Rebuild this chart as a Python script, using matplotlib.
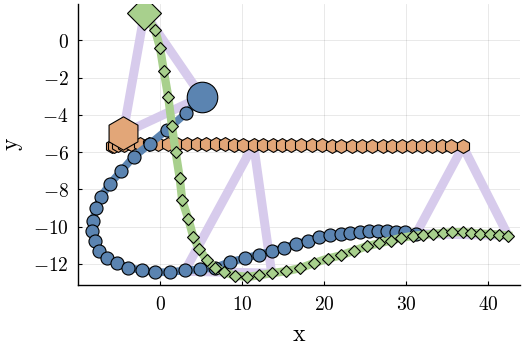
import numpy as np
import matplotlib
matplotlib.use("Agg")
import matplotlib.pyplot as plt
from matplotlib.ticker import FuncFormatter

plt.rcParams.update({'mathtext.fontset': 'cm'})

# ==============================================================
# data
# ==============================================================

blue_x = [5.1, 3.2, 0.85, -1.2, -3.2, -4.7, -6.1, -7.2, -7.8, -8.2,
          -8.25, -7.9, -7.4, -6.5, -5.3, -3.9, -2.2, -0.6, 1.2, 3.0,
          4.9, 6.7, 8.5, 10.4, 12.0, 13.6, 15.1, 16.6, 18.0, 19.4,
          20.7, 22.0, 23.2, 24.3, 25.5, 26.6, 27.7, 28.8, 29.9, 31.2]
blue_y = [-3.03, -3.9, -4.8, -5.55, -6.25, -7.0, -7.7, -8.4, -9.0, -9.7,
          -10.25, -10.8, -11.3, -11.7, -11.95, -12.2, -12.35, -12.45, -12.45, -12.35,
          -12.3, -12.2, -11.9, -11.7, -11.5, -11.33, -11.13, -10.93, -10.75, -10.57,
          -10.45, -10.4, -10.34, -10.3, -10.25, -10.25, -10.25, -10.27, -10.3, -10.38]

orange_x = [-4.5, -5.8, -5.6, -5.1, -4.4, -3.5, -2.45, -1.35, -0.2, 0.95,
            2.1, 3.25, 4.45, 5.6, 6.8, 7.9, 9.05, 10.15, 11.4, 12.5,
            13.7, 14.9, 16.0, 17.2, 18.5, 19.7, 20.9, 22.1, 23.4, 24.6,
            25.8, 27.1, 28.3, 29.5, 30.7, 31.9, 33.1, 34.3, 35.5, 36.9]
orange_y = [-5.0, -5.68, -5.66, -5.63, -5.6, -5.58, -5.56, -5.55, -5.55, -5.55,
            -5.55, -5.55, -5.56, -5.57, -5.58, -5.59, -5.6, -5.6, -5.61, -5.62,
            -5.62, -5.63, -5.63, -5.64, -5.64, -5.64, -5.65, -5.65, -5.65, -5.66,
            -5.66, -5.66, -5.67, -5.67, -5.67, -5.68, -5.68, -5.69, -5.69, -5.7]

green_x = [-1.9, -0.6, 0.0, 0.45, 1.0, 1.45, 1.9, 2.4, 2.7, 3.45,
           4.05, 4.75, 5.7, 6.7, 7.8, 9.1, 10.6, 12.0, 13.6, 15.3,
           17.0, 18.7, 20.4, 22.0, 23.6, 25.2, 26.7, 28.1, 29.4, 30.8,
           32.0, 33.2, 34.5, 35.6, 36.9, 37.9, 39.0, 40.2, 41.3, 42.4]
green_y = [1.47, 0.54, -0.41, -1.63, -3.05, -4.6, -6.0, -7.4, -8.6, -9.6,
           -10.55, -11.2, -11.8, -12.2, -12.45, -12.63, -12.7, -12.62, -12.5, -12.4,
           -12.24, -11.97, -11.72, -11.55, -11.3, -11.05, -10.9, -10.75, -10.6, -10.5,
           -10.45, -10.4, -10.35, -10.3, -10.3, -10.33, -10.38, -10.4, -10.43, -10.48]

# three triangles (start, middle, end), nan splits them
lav_x = [-4.5, -1.9, 5.1, -4.5, np.nan, 3.0, 11.4, 13.6, 3.0, np.nan, 31.2, 36.9, 42.4, 31.2]
lav_y = [-5.0, 1.47, -3.03, -5.0, np.nan, -12.4, -5.6, -12.5, -12.4, np.nan, -10.38, -5.7, -10.48, -10.38]

xticks = [0, 10, 20, 30, 40]
yticks = [0, -2, -4, -6, -8, -10, -12]

# ==============================================================
# plot
# ==============================================================

c_blue = '#5b84b1'
c_orange = '#e2a678'
c_green = '#a8d08d'
c_lav = '#d7cbec'

fig = plt.figure(figsize=(5.26, 3.47), dpi=100)
ax = fig.add_axes([0.149, 0.179, 0.8396, 0.8096])

ax.plot(lav_x, lav_y, color=c_lav, lw=6.5, solid_capstyle='butt', zorder=1)

ax.plot(orange_x, orange_y, color=c_orange, lw=6, marker='h', ms=10,
        mfc=c_orange, mec='black', mew=0.8, zorder=2)
ax.plot(orange_x[:1], orange_y[:1], ls='none', marker='h', ms=24,
        mfc=c_orange, mec='black', mew=0.8, zorder=2.1)

ax.plot(blue_x, blue_y, color=c_blue, lw=5.5, marker='o', ms=9.4,
        mfc=c_blue, mec='black', mew=0.8, zorder=3)
ax.plot(blue_x[:1], blue_y[:1], ls='none', marker='o', ms=22,
        mfc=c_blue, mec='black', mew=0.8, zorder=3.1)

ax.plot(green_x, green_y, color=c_green, lw=6, marker='D', ms=6.6,
        mfc=c_green, mec='black', mew=0.8, zorder=4)
ax.plot(green_x[:1], green_y[:1], ls='none', marker='D', ms=17.3,
        mfc=c_green, mec='black', mew=0.8, zorder=4.1)

ax.set_xlim(-9.95, 43.85)
ax.set_ylim(-13.13, 1.95)
ax.set_xticks(xticks)
ax.set_yticks(yticks)
fmt = FuncFormatter(lambda v, p: r'$%d$' % v)
ax.xaxis.set_major_formatter(fmt)
ax.yaxis.set_major_formatter(fmt)
ax.tick_params(direction='in', length=3, width=0.8, labelsize=14, pad=7)

ax.grid(True, color='black', alpha=0.1, lw=0.6)
ax.set_axisbelow(True)
for s in ['top', 'right']:
    ax.spines[s].set_visible(False)
for s in ['left', 'bottom']:
    ax.spines[s].set_linewidth(1.0)

ax.set_xlabel(r'$\mathrm{x}$', fontsize=17, labelpad=6)
ax.set_ylabel(r'$\mathrm{y}$', fontsize=17, labelpad=6)

fig.savefig('out.png', dpi=100)
